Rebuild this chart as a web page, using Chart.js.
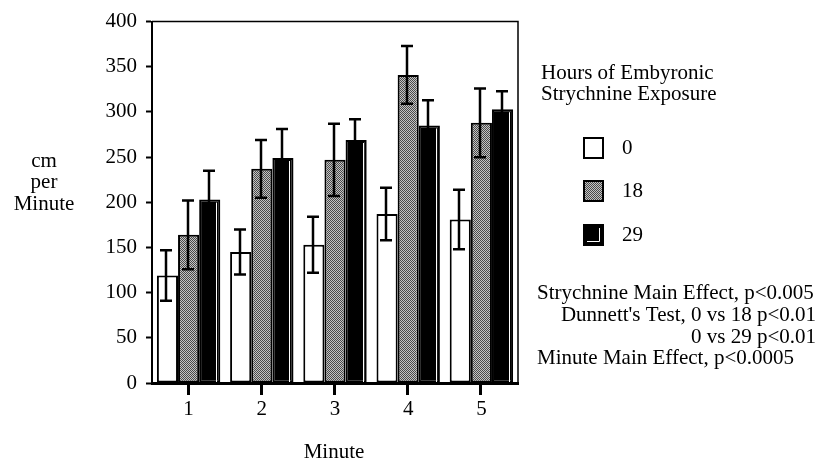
<!DOCTYPE html>
<html>
<head>
<meta charset="utf-8">
<script src="https://cdn.jsdelivr.net/npm/chart.js@4/dist/chart.umd.min.js"></script>
<style>
html,body{margin:0;padding:0;background:#fff;}
#wrap{width:825px;height:466px;position:relative;}
</style>
</head>
<body>
<div id="wrap"><canvas id="c" width="825" height="466"></canvas></div>
<script>
// ---- data ----
const minutes = ['1', '2', '3', '4', '5'];
const exposureHours = ['0', '18', '29'];
const mean0  = [119, 145, 153, 187, 181];
const mean18 = [164, 237, 247, 341, 288];
const mean29 = [203, 249, 269, 285, 303];
const sem0  = [28, 25, 31, 29, 33];
const sem18 = [38, 32, 40, 32, 38];
const sem29 = [32, 32, 23, 28, 20];
const yMin = 0, yMax = 400, yStep = 50;
const legendTitle = ['Hours of Embyronic', 'Strychnine Exposure'];
const yTitle = ['cm', 'per', 'Minute'];
const xTitle = 'Minute';
const statLines = [
  'Strychnine Main Effect, p<0.005',
  "Dunnett's Test, 0 vs 18 p<0.01",
  '0 vs 29 p<0.01',
  'Minute Main Effect, p<0.0005'
];

const FONT = '21px "Liberation Serif", "Times New Roman", serif';

// dithered gray pattern
function makePattern() {
  const p = document.createElement('canvas');
  p.width = 2; p.height = 2;
  const g = p.getContext('2d');
  g.fillStyle = '#c4c4c4'; g.fillRect(0, 0, 2, 2);
  g.fillStyle = '#4a4a4a'; g.fillRect(0, 0, 1, 1); g.fillRect(1, 1, 1, 1);
  return document.getElementById('c').getContext('2d').createPattern(p, 'repeat');
}
const grayPattern = makePattern();

const errs = [sem0, sem18, sem29];

function drawXTicks(chart) {
  const ctx = chart.ctx;
  const xs = chart.scales.x;
  const bottom = chart.chartArea.bottom;
  ctx.save();
  ctx.fillStyle = '#000';
  for (let j = 0; j < minutes.length; j++) {
    const px = Math.round(xs.getPixelForValue(j));
    ctx.fillRect(px - 2, bottom, 3, 12);
  }
  ctx.restore();
}

const annotations = {
  id: 'annotations',
  afterDatasetsDraw(chart) {
    const ctx = chart.ctx;
    const ys = chart.scales.y;
    const area = chart.chartArea;
    ctx.save();
    // inner white line on black bars
    const m2 = chart.getDatasetMeta(2);
    m2.data.forEach(el => {
      const r = el.x + el.width / 2;
      ctx.strokeStyle = '#fff';
      ctx.lineWidth = 1;
      ctx.beginPath();
      ctx.moveTo(Math.round(r) - 3.5, el.y + 3);
      ctx.lineTo(Math.round(r) - 3.5, area.bottom - 1);
      ctx.stroke();
    });
    // error bars
    chart.data.datasets.forEach((ds, i) => {
      const meta = chart.getDatasetMeta(i);
      meta.data.forEach((el, j) => {
        const v = ds.data[j], e = errs[i][j];
        const x = Math.round(el.x) - 1;
        const yv = ys.getPixelForValue(v);
        const yt = ys.getPixelForValue(v + e);
        const yb = ys.getPixelForValue(v - e);
        ctx.strokeStyle = '#000';
        ctx.lineWidth = 2.5;
        ctx.beginPath();
        ctx.moveTo(x, yv); ctx.lineTo(x, yt);
        ctx.moveTo(x - 6, yt); ctx.lineTo(x + 6, yt);
        ctx.moveTo(x, yv); ctx.lineTo(x, yb);
        ctx.moveTo(x - 6, yb); ctx.lineTo(x + 6, yb);
        ctx.stroke();
      });
    });
    ctx.restore();
    drawXTicks(chart);
  },
  afterDraw(chart) {
    const ctx = chart.ctx;
    const area = chart.chartArea;
    ctx.save();
    // top & right frame
    ctx.strokeStyle = '#000';
    ctx.lineWidth = 1.5;
    ctx.beginPath();
    ctx.moveTo(area.left, area.top);
    ctx.lineTo(area.right, area.top);
    ctx.lineTo(area.right, area.bottom);
    ctx.stroke();
    ctx.restore();
    drawXTicks(chart);

    ctx.save();
    ctx.fillStyle = '#000';
    ctx.font = FONT;
    ctx.textBaseline = 'middle';
    // y title
    ctx.textAlign = 'center';
    [161, 182, 204].forEach((yy, k) => ctx.fillText(yTitle[k], 44, yy));
    // x title
    ctx.fillText(xTitle, 334, 452);
    // legend title
    ctx.textAlign = 'left';
    ctx.fillText(legendTitle[0], 541, 73);
    ctx.fillText(legendTitle[1], 541, 94);
    // legend swatches
    const sy = [138, 181, 225];
    const fills = ['#fff', grayPattern, '#000'];
    sy.forEach((y0, k) => {
      ctx.fillStyle = fills[k];
      ctx.fillRect(584, y0, 19, 20);
      ctx.strokeStyle = '#000';
      ctx.lineWidth = 2;
      ctx.strokeRect(584, y0, 19, 20);
      if (k === 2) {
        ctx.strokeStyle = '#fff';
        ctx.lineWidth = 1;
        ctx.beginPath();
        ctx.moveTo(599.5, y0 + 3);
        ctx.lineTo(599.5, y0 + 16.5);
        ctx.lineTo(587, y0 + 16.5);
        ctx.stroke();
      }
      ctx.fillStyle = '#000';
      ctx.fillText(exposureHours[k], 622, y0 + 10);
    });
    // statistics text
    ctx.textAlign = 'left';
    ctx.fillText(statLines[0], 537, 293);
    ctx.textAlign = 'right';
    ctx.fillText(statLines[1], 816, 315);
    ctx.fillText(statLines[2], 816, 337);
    ctx.textAlign = 'left';
    ctx.fillText(statLines[3], 537, 358);
    ctx.restore();
  }
};

new Chart(document.getElementById('c'), {
  type: 'bar',
  data: {
    labels: minutes,
    datasets: [
      { label: exposureHours[0], data: mean0,  backgroundColor: '#fff',      borderColor: '#000', borderWidth: 2 },
      { label: exposureHours[1], data: mean18, backgroundColor: grayPattern, borderColor: '#000', borderWidth: 2 },
      { label: exposureHours[2], data: mean29, backgroundColor: '#000',      borderColor: '#000', borderWidth: 2 }
    ]
  },
  options: {
    responsive: false,
    animation: false,
    devicePixelRatio: 1,
    layout: { padding: { left: 0, right: 307, top: 20, bottom: 0 } },
    datasets: { bar: { categoryPercentage: 0.866, barPercentage: 1.0, borderSkipped: false } },
    plugins: { legend: { display: false }, tooltip: { enabled: false }, title: { display: false } },
    scales: {
      x: {
        offset: true,
        grid: { display: false, drawTicks: false },
        border: { display: true, color: '#000', width: 3 },
        ticks: { color: '#000', font: { family: '"Liberation Serif", serif', size: 21 }, padding: 14, maxRotation: 0 },
        afterFit(s) { s.height = 83; }
      },
      y: {
        min: yMin, max: yMax,
        grid: { display: true, drawOnChartArea: false, drawTicks: true, tickLength: 6, tickColor: '#000', tickWidth: 2 },
        border: { display: true, color: '#000', width: 2 },
        ticks: { stepSize: yStep, color: '#000', font: { family: '"Liberation Serif", serif', size: 21 }, padding: 9 },
        afterFit(s) { s.width = 152; }
      }
    }
  },
  plugins: [annotations]
});
</script>
</body>
</html>
